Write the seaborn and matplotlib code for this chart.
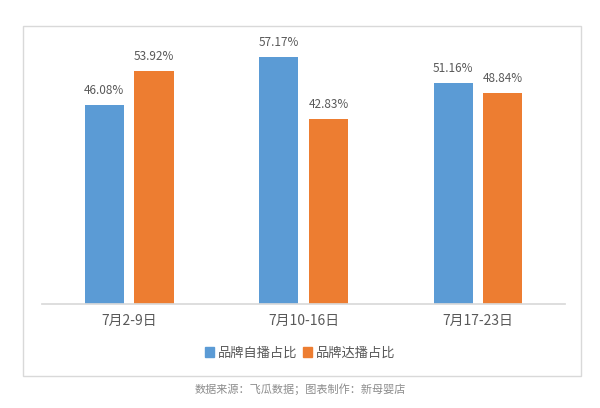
import pandas as pd
import matplotlib
matplotlib.use('Agg')
import matplotlib.pyplot as plt
import seaborn as sns
from matplotlib.patches import Rectangle

# 数据
periods = ['7月2-9日', '7月10-16日', '7月17-23日']
self_share = [46.08, 57.17, 51.16]
talent_share = [53.92, 42.83, 48.84]
series = ['品牌自播占比', '品牌达播占比']
colors = ['#5B9BD5', '#ED7D31']

df = pd.DataFrame({
    'period': periods * 2,
    'share': self_share + talent_share,
    'type': [series[0]] * 3 + [series[1]] * 3,
})

sns.set_theme(style='white')
plt.rcParams['font.family'] = ['Noto Sans CJK SC', 'DejaVu Sans']

fig = plt.figure(figsize=(6, 4.08), dpi=100)
ax = fig.add_axes([0.07, 0.255, 0.872, 0.671])

# 外框
fig.patches.append(Rectangle((23 / 600, 1 - 376 / 408), 558 / 600, 350 / 408,
                             transform=fig.transFigure, fill=False,
                             edgecolor='#D9D9D9', linewidth=1))

sns.barplot(data=df, x='period', y='share', hue='type', order=periods,
            hue_order=series, palette=colors, width=0.57, gap=0.21,
            saturation=1, linewidth=0, ax=ax, legend=False)

for cont in ax.containers:
    ax.bar_label(cont, labels=[f'{v:.2f}%' for v in cont.datavalues],
                 padding=6, fontsize=8.5, color='#595959')

ax.set_xlim(-0.5, 2.5)
ax.set_ylim(0, 63.4)
ax.set_yticks([])
ax.set_xlabel('')
ax.set_ylabel('')
for s in ['top', 'left', 'right']:
    ax.spines[s].set_visible(False)
ax.spines['bottom'].set_color('#D9D9D9')
ax.tick_params(axis='x', length=0, pad=7, labelsize=10, labelcolor='#595959')

# 图例
handles = [Rectangle((0, 0), 1, 1, color=c) for c in colors]
fig.legend(handles, series, loc='center', bbox_to_anchor=(0.5, 1 - 353 / 408),
           ncol=2, frameon=False, fontsize=9.5, labelcolor='#595959',
           handlelength=0.7, handleheight=0.7, handletextpad=0.3, columnspacing=0.4)

fig.text(0.5, 1 - 389 / 408, '数据来源：飞瓜数据；图表制作：新母婴店',
         ha='center', va='center', fontsize=8, color='#8C8C8C')

fig.savefig('out.png', dpi=100)
